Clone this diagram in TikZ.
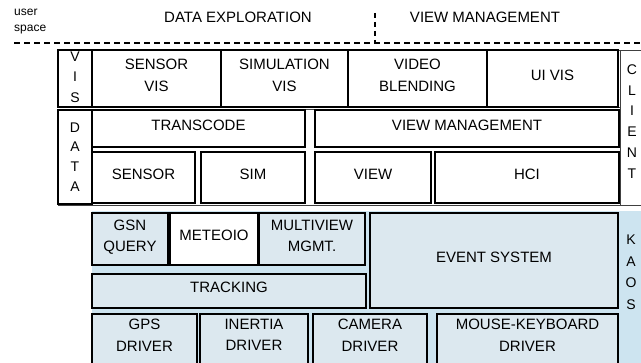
\documentclass[tikz,border=0pt]{standalone}
\usepackage{fontspec}
\setmainfont{Liberation Sans}
\usepackage{tikz}
\usetikzlibrary{positioning}
\definecolor{kaosblue}{RGB}{205,228,240}
\definecolor{boxblue}{RGB}{220,232,239}

\begin{document}
\begin{tikzpicture}[x=1pt, y=-1pt,
  blk/.style={draw, line width=2.1pt, align=center, inner sep=0pt, text depth=6.5pt, font=\fontsize{15}{21.5}\selectfont},
  low/.style={blk, fill=boxblue},
  drv/.style={low, anchor=north, inner ysep=5pt, text depth=40pt},
  frm/.style={draw=black!75, line width=0.9pt, inner sep=0pt},
  letters/.style={align=center, inner sep=0pt, font=\fontsize{14}{#1}\selectfont},
  sepline/.style={line width=2.2pt, dash pattern=on 6pt off 4pt}]
  \useasboundingbox (0,0) rectangle (641,363);

  \node[anchor=west, align=left, inner sep=0pt, font=\fontsize{12}{16.5}\selectfont] (userspace) at (14,21.5) {user\\space};
  \node[inner sep=0pt, font=\fontsize{15}{18}\selectfont] (explore) at (238,17) {DATA EXPLORATION};
  \node[inner sep=0pt, font=\fontsize{15}{18}\selectfont] (viewtitle) at (485,17) {VIEW MANAGEMENT};
  \coordinate (sepL) at (14,43);
  \coordinate (sepR) at (641,43);
  \coordinate (split) at (375,13);
  \draw[sepline] (sepL) -- (sepR);
  \draw[line width=2.2pt, dash pattern=on 5pt off 4pt] (split) -- (split |- sepL);

  \node[frm, minimum width=562pt, minimum height=57pt] (visframe) at (339,78.5) {};
  \node[frm, minimum width=562pt, minimum height=96pt] (dataframe) at (339,157) {};
  \node[frm, minimum width=24pt, minimum height=155pt, letters=20.8, text depth=12pt] (client) at (632,127.5) {C\\L\\I\\E\\N\\T};

  \node[blk, minimum width=34pt, minimum height=57pt, text depth=3pt, font=\fontsize{14}{20.5}\selectfont] (vislbl) at (75,78.5) {V\\I\\S};
  \node[blk, minimum width=129pt, minimum height=57pt] (vissensor) at (156.5,78.5) {SENSOR\\VIS};
  \node[blk, minimum width=127pt, minimum height=57pt] (vissim) at (284.5,78.5) {SIMULATION\\VIS};
  \node[blk, minimum width=139pt, minimum height=57pt] (visvideo) at (417.5,78.5) {VIDEO\\BLENDING};
  \node[blk, minimum width=131pt, minimum height=57pt] (visui) at (552.5,78.5) {UI VIS};

  \node[blk, minimum width=34pt, minimum height=94pt, text depth=0pt, font=\fontsize{14}{19.7}\selectfont] (datalbl) at (75,157) {D\\A\\T\\A};
  \node[blk, minimum width=213pt, minimum height=37pt] (transcode) at (198.5,128.5) {TRANSCODE};
  \node[blk, minimum width=304pt, minimum height=37pt] (viewmgmt) at (467,128.5) {VIEW MANAGEMENT};
  \node[blk, minimum width=103pt, minimum height=51pt] (sensor) at (143.5,177.5) {SENSOR};
  \node[blk, minimum width=104pt, minimum height=51pt] (sim) at (253,177.5) {SIM};
  \node[blk, minimum width=116pt, minimum height=51pt] (view) at (373,177.5) {VIEW};
  \node[blk, minimum width=184pt, minimum height=51pt] (hci) at (527,177.5) {HCI};

  \node[fill=kaosblue, anchor=north west, inner sep=0pt, outer sep=0pt, minimum width=560pt, minimum height=160pt] (lowbg) at (92,211) {};
  \node[letters=21.5] (kaos) at (631,272.5) {K\\A\\O\\S};

  \node[low, minimum width=76pt, minimum height=52pt] (gsn) at (130,239) {GSN\\QUERY};
  \node[blk, fill=white, minimum width=88pt, minimum height=52pt] (meteoio) at (214,239) {METEOIO};
  \node[low, minimum width=106pt, minimum height=52pt] (multiview) at (312,239) {MULTIVIEW\\MGMT.};
  \node[low, minimum width=248pt, minimum height=95pt] (event) at (494,260.5) {EVENT SYSTEM};
  \node[low, minimum width=274pt, minimum height=34pt] (tracking) at (229,291) {TRACKING};
  \node[drv, minimum width=105pt] (gps) at (144.5,313) {GPS\\DRIVER};
  \node[drv, minimum width=108pt] (inertia) at (254,313) {INERTIA\\DRIVER};
  \node[drv, minimum width=114pt] (camera) at (370,313) {CAMERA\\DRIVER};
  \node[drv, minimum width=181pt] (mouse) at (527.5,313) {MOUSE-KEYBOARD\\DRIVER};
\end{tikzpicture}
\end{document}
